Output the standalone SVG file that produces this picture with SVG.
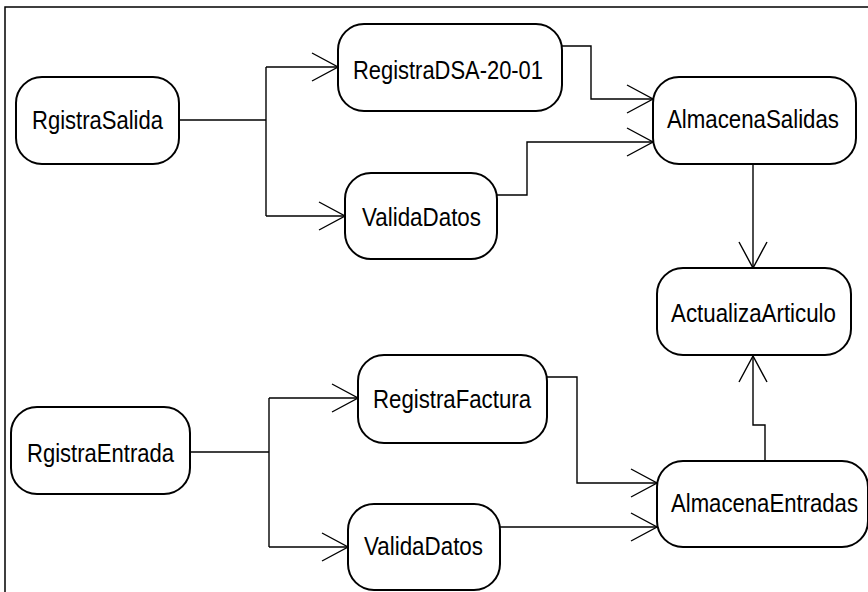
<svg xmlns="http://www.w3.org/2000/svg" width="868" height="592" viewBox="0 0 868 592">
<style>
.box{fill:#fff;stroke:#000;stroke-width:2}
.lbl{font-family:"Liberation Sans",Arial,sans-serif;font-size:26px;fill:#000;text-anchor:middle}
.con{fill:none;stroke:#000;stroke-width:1.4}
</style>
<defs>
<marker id="arr" markerUnits="userSpaceOnUse" markerWidth="40" markerHeight="40" viewBox="-30 -20 40 40" refX="0" refY="0" orient="auto" overflow="visible">
<path d="M-26,-14 L0,0 L-26,14" fill="none" stroke="#000" stroke-width="1.4"/>
</marker>
</defs>
<rect x="5" y="7" width="870" height="600" fill="#fff" stroke="#000" stroke-width="1.5"/>
<g id="connectors">
<path class="con" d="M179,120 H266"/>
<path class="con" d="M266,67 V216"/>
<path class="con" d="M266,67 H338" marker-end="url(#arr)"/>
<path class="con" d="M266,216 H345" marker-end="url(#arr)"/>
<path class="con" d="M562,46 H591 V99 H653" marker-end="url(#arr)"/>
<path class="con" d="M497,195 H527 V142 H653" marker-end="url(#arr)"/>
<path class="con" d="M753,164 V268" marker-end="url(#arr)"/>
<path class="con" d="M190,452 H269"/>
<path class="con" d="M269,398 V547"/>
<path class="con" d="M269,398 H358" marker-end="url(#arr)"/>
<path class="con" d="M269,547 H348" marker-end="url(#arr)"/>
<path class="con" d="M547,377 H577 V483 H657" marker-end="url(#arr)"/>
<path class="con" d="M500,527 H657" marker-end="url(#arr)"/>
<path class="con" d="M765,461 V425 H753 V356" marker-end="url(#arr)"/>
</g>
<g id="RgistraSalida"><rect class="box" x="16" y="77" width="163" height="87" rx="26"/><text class="lbl" x="97.5" y="129" textLength="131" lengthAdjust="spacingAndGlyphs">RgistraSalida</text></g>
<g id="RegistraDSA"><rect class="box" x="338" y="24" width="224" height="87" rx="26"/><text class="lbl" x="448" y="79" textLength="190" lengthAdjust="spacingAndGlyphs">RegistraDSA-20-01</text></g>
<g id="ValidaDatos1"><rect class="box" x="345" y="173" width="152" height="86" rx="26"/><text class="lbl" x="421.5" y="226" textLength="119" lengthAdjust="spacingAndGlyphs">ValidaDatos</text></g>
<g id="AlmacenaSalidas"><rect class="box" x="653" y="77" width="203" height="87" rx="26"/><text class="lbl" x="753" y="128" textLength="172" lengthAdjust="spacingAndGlyphs">AlmacenaSalidas</text></g>
<g id="ActualizaArticulo"><rect class="box" x="657" y="268" width="194" height="87" rx="26"/><text class="lbl" x="753.5" y="322" textLength="165" lengthAdjust="spacingAndGlyphs">ActualizaArticulo</text></g>
<g id="RgistraEntrada"><rect class="box" x="11" y="407" width="179" height="87" rx="26"/><text class="lbl" x="100.5" y="462" textLength="147" lengthAdjust="spacingAndGlyphs">RgistraEntrada</text></g>
<g id="RegistraFactura"><rect class="box" x="358" y="355" width="189" height="88" rx="26"/><text class="lbl" x="452" y="408" textLength="158" lengthAdjust="spacingAndGlyphs">RegistraFactura</text></g>
<g id="ValidaDatos2"><rect class="box" x="348" y="504" width="152" height="86" rx="26"/><text class="lbl" x="423.5" y="555" textLength="119" lengthAdjust="spacingAndGlyphs">ValidaDatos</text></g>
<g id="AlmacenaEntradas"><rect class="box" x="657" y="461" width="211" height="86" rx="26"/><text class="lbl" x="764.5" y="512" textLength="187" lengthAdjust="spacingAndGlyphs">AlmacenaEntradas</text></g>
</svg>
